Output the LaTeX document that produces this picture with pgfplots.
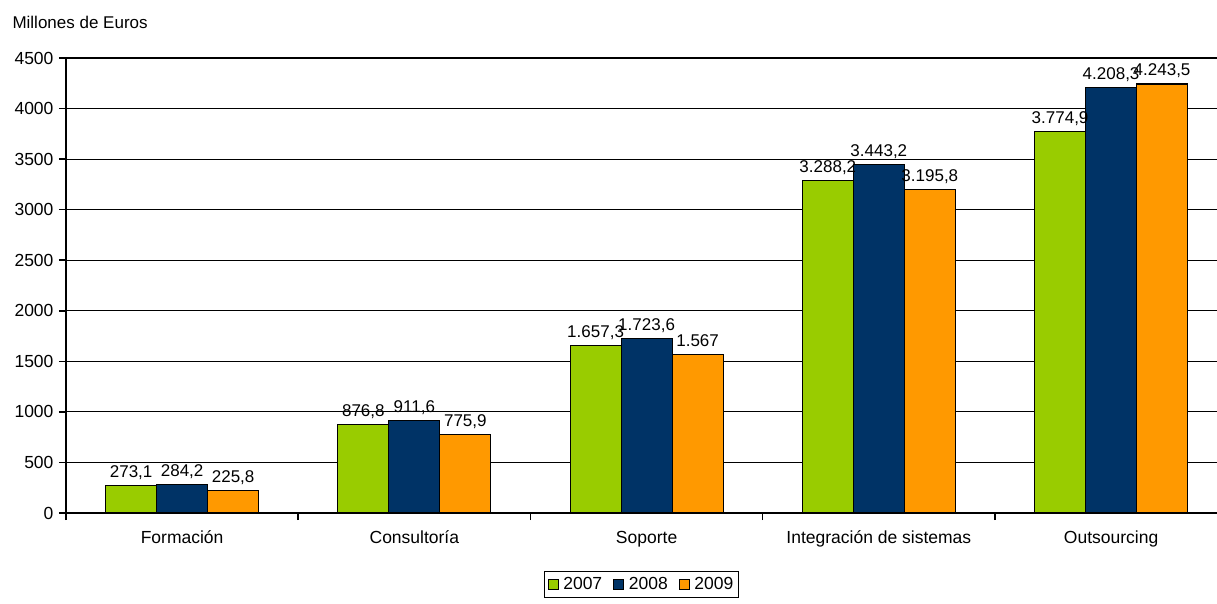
\documentclass[border=0pt]{standalone}
\usepackage{pgfplots}
\pgfplotsset{compat=1.18}
\usepackage{fontspec}
\setmainfont{Liberation Sans}
\definecolor{c07}{RGB}{153,204,0}
\definecolor{c08}{RGB}{0,51,102}
\definecolor{c09}{RGB}{255,153,0}

\begin{document}
\begin{tikzpicture}
\useasboundingbox (-66pt,-90pt) rectangle (1151pt,513pt);
\begin{axis}[
    at={(0pt,0pt)}, anchor=south west,
    scale only axis, width=1151pt, height=455pt,
    xmin=-0.5, xmax=4.456, ymin=0, ymax=4500,
    ytick={0,500,...,4500},
    xtick={0,1,2,3,4},
    xticklabels={Formación,Consultoría,Soporte,Integración de sistemas,Outsourcing},
    minor xtick={-0.5,0.5,1.5,2.5,3.5},
    axis x line*=bottom, axis y line*=left,
    axis line style={-, black, line width=1.5pt},
    tick align=outside,
    major x tick style={draw=none},
    minor x tick style={black, line width=1.5pt},
    major y tick style={black, line width=1.5pt},
    major tick length=7pt, minor tick length=7pt,
    ymajorgrids=true,
    grid style={black, line width=1.2pt},
    tick label style={font=\fontsize{17.5}{19}\selectfont},
    xticklabel style={text height=12.5pt, text depth=4pt},
    xticklabel shift=7pt,
    yticklabel shift=2pt,
    /pgf/number format/assume math mode=true,
    y tick label style={/pgf/number format/1000 sep={}},
    ybar=0pt, bar width=51pt,
    point meta=y,
    nodes near coords,
    every node near coord/.append style={font=\fontsize{17}{19}\selectfont, anchor=base, yshift=8pt,
      /pgf/number format/.cd, fixed, precision=1, use comma, 1000 sep={.}},
    legend style={at={(0.5,-0.1275)}, anchor=north, legend columns=-1, draw=black, line width=1.2pt,
      font=\fontsize{17.5}{19}\selectfont, inner xsep=3pt, inner ysep=4pt,
      /tikz/every even column/.append style={column sep=0pt},
      /tikz/every odd column/.append style={column sep=0pt},
      nodes={inner xsep=2pt}},
    legend image code/.code={\path[draw=none, fill=none] (0pt,0pt) rectangle (13pt,0pt);
      \draw[#1, line width=1.2pt] (0pt,-5pt) rectangle (10pt,5pt);},
]
\addplot[fill=c07, draw=black, line width=1.2pt]
  coordinates {(0,273.1) (1,876.8) (2,1657.3) (3,3288.2) (4,3774.9)};
\addplot[fill=c08, draw=black, line width=1.2pt]
  coordinates {(0,284.2) (1,911.6) (2,1723.6) (3,3443.2) (4,4208.3)};
\addplot[fill=c09, draw=black, line width=1.2pt]
  coordinates {(0,225.8) (1,775.9) (2,1567) (3,3195.8) (4,4243.5)};
\legend{2007\hspace*{9pt}\null,2008\hspace*{9pt}\null,2009}
\end{axis}
\node[anchor=west, font=\fontsize{17}{19}\selectfont] at (-57pt,491pt) {Millones de Euros};
\end{tikzpicture}
\end{document}
